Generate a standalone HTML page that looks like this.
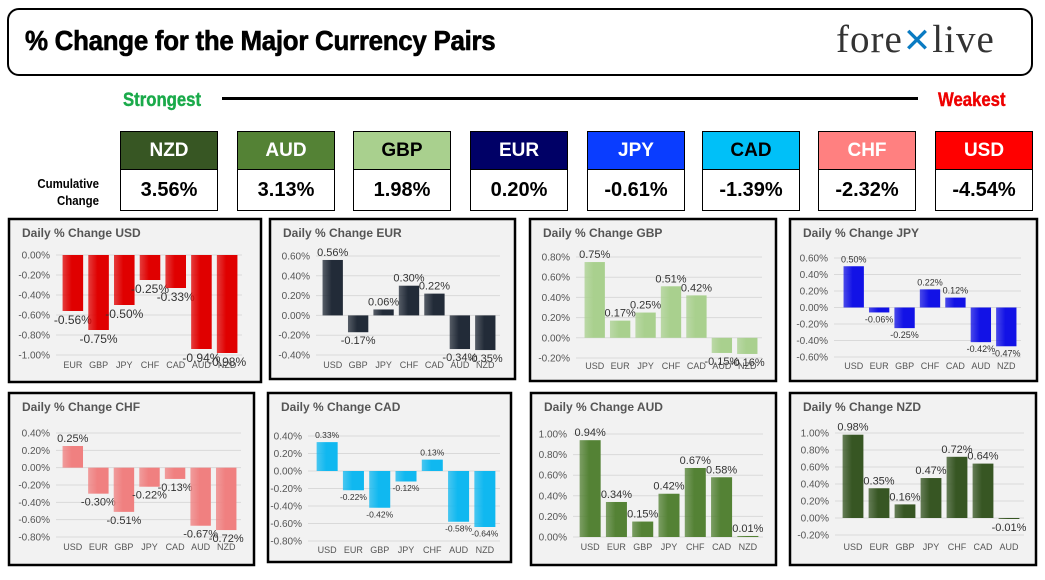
<!DOCTYPE html>
<html><head><meta charset="utf-8"><style>
body{margin:0;background:#fff;width:1045px;height:580px;overflow:hidden;position:relative;font-family:"Liberation Sans",sans-serif}
.hd{position:absolute;left:7px;top:8px;width:1026px;height:68px;border:2px solid #000;border-radius:12px;box-sizing:border-box}
.title{position:absolute;left:25px;top:25px;font:bold 28px "Liberation Sans",sans-serif;transform:scaleX(0.925);transform-origin:left;letter-spacing:-0.3px;-webkit-text-stroke:0.6px #000}
.logo{position:absolute;left:836px;top:17px;font:39px "Liberation Serif",serif;color:#333;letter-spacing:1px}
.logo b{color:#0a7bc2;font-weight:normal;font-size:34px}
.str{position:absolute;left:123px;top:90px;color:#1aaa4a;font:bold 19px "Liberation Sans",sans-serif;transform:scaleX(.88);transform-origin:left;-webkit-text-stroke:0.4px #1aaa4a}
.wk{position:absolute;left:938px;top:90px;color:#e00;font:bold 19px "Liberation Sans",sans-serif;transform:scaleX(.88);transform-origin:left;-webkit-text-stroke:0.4px #e00}
.line{position:absolute;left:222px;top:97px;width:696px;height:3px;background:#000}
.cum{position:absolute;left:20px;top:175px;width:79px;text-align:right;font:bold 13px "Liberation Sans",sans-serif;line-height:17px;transform:scaleX(.88);transform-origin:right}
.box{position:absolute;top:131px;width:98px;height:80px;border:1px solid #000;box-sizing:border-box}
.box .h{height:37px;border-bottom:1px solid #000;text-align:center;font:bold 19px "Liberation Sans",sans-serif;line-height:37px}
.box .v{text-align:center;font:bold 20px "Liberation Sans",sans-serif;line-height:40px}
svg{position:absolute;left:0;top:0}
</style></head><body>
<div class="hd"></div>
<div class="title">% Change for the Major Currency Pairs</div>
<div class="logo">fore<b>✕</b>live</div>
<div class="str">Strongest</div><div class="line"></div><div class="wk">Weakest</div>
<div class="cum">Cumulative<br>Change</div>
<div id="boxes"></div>
<svg id="s" width="1045" height="580"></svg>
<script>
const C={USD:'#e00000',EUR:'#222b38',GBP:'#a9d08e',JPY:'#1212e6',CHF:'#f08080',CAD:'#10b8f0',AUD:'#548235',NZD:'#375623'};
const B=[['NZD','3.56%',120,'#375623','#fff'],['AUD','3.13%',237,'#548235','#fff'],['GBP','1.98%',353,'#a9d08e','#000'],['EUR','0.20%',470,'#000066','#fff'],['JPY','-0.61%',587,'#0a3dff','#fff'],['CAD','-1.39%',702,'#00c0f8','#000'],['CHF','-2.32%',818,'#ff8080','#fff'],['USD','-4.54%',935,'#ff0000','#fff']];
let h='';B.forEach(b=>{h+=`<div class="box" style="left:${b[2]}px"><div class="h" style="background:${b[3]};color:${b[4]}">${b[0]}</div><div class="v">${b[1]}</div></div>`});
document.getElementById('boxes').innerHTML=h;
const P=[
[8,218,254,165,'USD','USD',0,-1,255,355,60,240,368,50,['EUR','GBP','JPY','CHF','CAD','AUD','NZD'],[-.56,-.75,-.50,-.25,-.33,-.94,-.98],12],
[269,218,247,162,'EUR','EUR',.6,-.4,256,355,320,498,368,310,['USD','GBP','JPY','CHF','CAD','AUD','NZD'],[.56,-.17,.06,.30,.22,-.34,-.35],11],
[529,218,248,164,'GBP','GBP',.8,-.2,257,358,582,760,369,570,['USD','EUR','JPY','CHF','CAD','AUD','NZD'],[.75,.17,.25,.51,.42,-.15,-.16],11],
[789,218,249,164,'JPY','JPY',.6,-.6,258,357,841,1019,369,828,['USD','EUR','GBP','CHF','CAD','AUD','NZD'],[.50,-.06,-.25,.22,.12,-.42,-.47],9],
[8,392,247,174,'CHF','CHF',.4,-.8,433,537,60,239,550,50,['USD','EUR','GBP','JPY','CAD','AUD','NZD'],[.25,-.30,-.51,-.22,-.13,-.67,-.72],11],
[267,392,245,171,'CAD','CAD',.4,-.8,436,541,314,498,553,302,['USD','EUR','GBP','JPY','CHF','AUD','NZD'],[.33,-.22,-.42,-.12,.13,-.58,-.64],8.5],
[530,392,247,174,'AUD','AUD',1,0,434,537,577,761,550,567,['USD','EUR','GBP','JPY','CHF','CAD','NZD'],[.94,.34,.15,.42,.67,.58,.01],11],
[789,392,248,174,'NZD','NZD',1,-.2,433,535,840,1022,550,829,['USD','EUR','GBP','JPY','CHF','CAD','AUD'],[.98,.35,.16,.47,.72,.64,-.01],11]];
let s='';
P.forEach(p=>{
 const [x,y,w,ht,t,cur,tmax,tmin,yt,yb,b0,b1,ly,tr,names,vals,fs]=p;
 s+=`<rect x="${x+1}" y="${y+1}" width="${w-2}" height="${ht-2}" fill="#f2f2f2" stroke="#000" stroke-width="2.5"/>`;
 s+=`<text x="${x+14}" y="${y+19}" font-size="12" font-weight="bold" fill="#555">Daily % Change ${t}</text>`;
 const step=0.2,n=Math.round((tmax-tmin)/step);
 const Y=v=>yt+(tmax-v)/(tmax-tmin)*(yb-yt);
 for(let i=0;i<=n;i++){const v=tmax-i*step,yy=Y(v);
  s+=`<line x1="${tr+6}" x2="${b1+2}" y1="${yy}" y2="${yy}" stroke="#d9d9d9"/>`;
  s+=`<text x="${tr}" y="${yy+3.5}" font-size="10" text-anchor="end" fill="#555">${(Math.abs(v)<1e-9?0:v).toFixed(2)}%</text>`;}
 const sp=(b1-b0)/7,bw=sp*0.8,y0=Y(0);
 vals.forEach((v,i)=>{const cx=b0+sp*(i+.5),yy=Y(v);const top=Math.min(yy,y0),hh=Math.abs(yy-y0);
  s+=`<rect x="${cx-bw/2}" y="${top}" width="${bw}" height="${Math.max(hh,1)}" fill="url(#g${cur})"/>`;
  const lyv=v>=0?top-4:top+hh+fs+1;
  s+=`<text x="${cx}" y="${lyv}" font-size="${fs}" text-anchor="middle" fill="#333">${v.toFixed(2)}%</text>`;
  s+=`<text x="${cx}" y="${ly}" font-size="9" text-anchor="middle" fill="#555">${names[i]}</text>`;});
});
let d='<defs>';for(const k in C){d+=`<linearGradient id="g${k}"><stop offset="0" stop-color="${C[k]}" stop-opacity=".75"/><stop offset=".45" stop-color="${C[k]}"/></linearGradient>`;}
d+='</defs>';
document.getElementById('s').innerHTML=d+s;
</script>
</body></html>
